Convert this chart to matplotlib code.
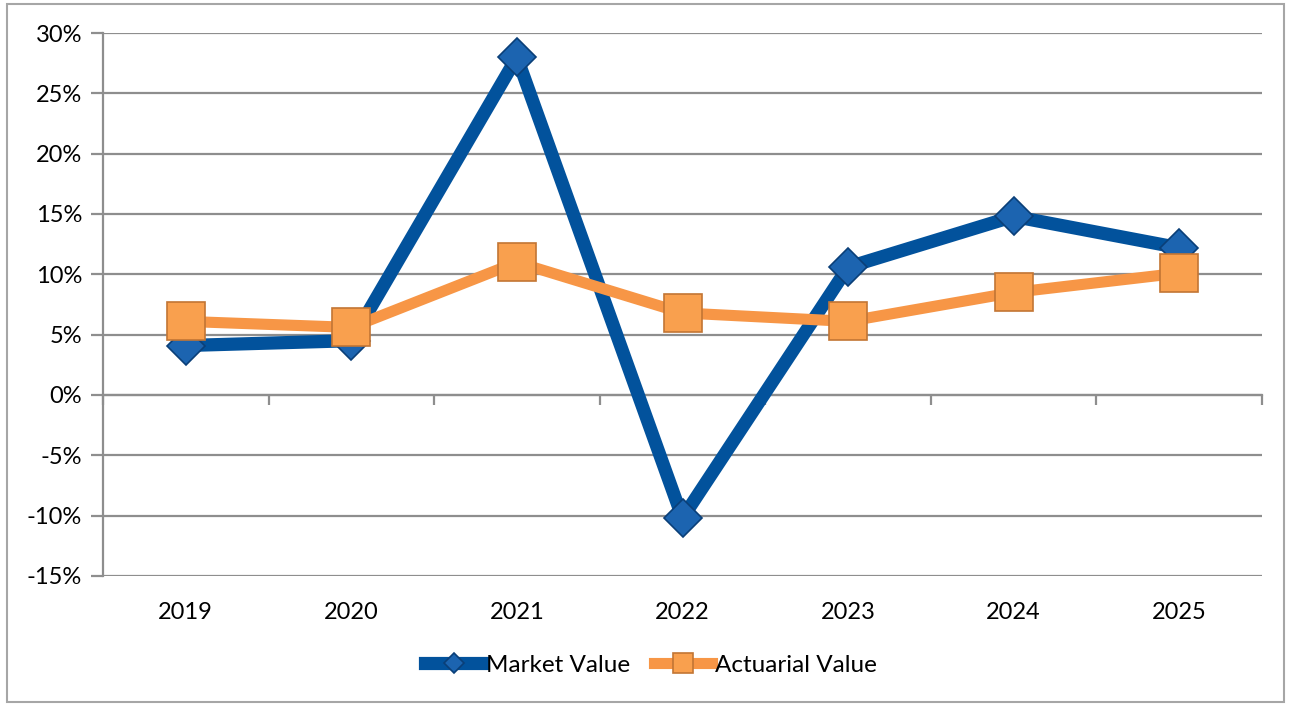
import numpy as np
import matplotlib.pyplot as plt
from matplotlib.patches import Rectangle
from matplotlib.ticker import FixedLocator, PercentFormatter

plt.rcParams['font.family'] = ['Lato', 'DejaVu Sans']
plt.rcParams['axes.unicode_minus'] = False

years = ['2019', '2020', '2021', '2022', '2023', '2024', '2025']
market_value = [4.1, 4.5, 28.0, -10.2, 10.6, 14.8, 12.2]
actuarial_value = [6.1, 5.6, 11.0, 6.8, 6.1, 8.5, 10.1]

blue = '#02529c'
orange = '#f79646'
grid_col = '#8e8e8e'

fig = plt.figure(figsize=(12.91, 7.06), dpi=100)
ax = fig.add_axes([103 / 1291, 1 - 576 / 706, (1262 - 103) / 1291, (576 - 33) / 706])

# outer chart border
fig.patches.append(Rectangle((7 / 1291, 4 / 706), 1277 / 1291, 698 / 706,
                             transform=fig.transFigure, fill=False,
                             edgecolor='#a6a6a6', linewidth=1.5))

x = np.arange(len(years))
ax.plot(x, market_value, color=blue, linewidth=9.5, marker='D', markersize=19,
        markerfacecolor='#1c64b0', markeredgecolor='#0a3f78',
        markeredgewidth=1.2, label='Market Value', zorder=3)
ax.plot(x, actuarial_value, color=orange, linewidth=8, marker='s', markersize=27,
        markerfacecolor='#f9a04e', markeredgecolor='#c27534',
        markeredgewidth=1.2, label='Actuarial Value', zorder=4)

ax.set_xlim(-0.5, len(years) - 0.5)
ax.set_ylim(-15, 30)
ax.set_yticks(np.arange(-15, 31, 5))
ax.yaxis.set_major_formatter(PercentFormatter(decimals=0))
ax.grid(axis='y', color=grid_col, linewidth=1.6, zorder=0)
ax.set_axisbelow(True)

for side in ['top', 'right', 'bottom']:
    ax.spines[side].set_visible(False)
ax.spines['left'].set_color(grid_col)
ax.spines['left'].set_linewidth(1.6)

ax.tick_params(axis='y', length=9, width=1.6, color=grid_col, labelsize=17,
               pad=6)
ax.set_xticks(x)
ax.set_xticklabels(years)
ax.tick_params(axis='x', length=0, labelsize=17, pad=19)

# category axis crossing at 0% with boundary tick marks
sec = ax.secondary_xaxis(1 / 3)
sec.xaxis.set_major_locator(FixedLocator(np.arange(-0.5, len(years), 1.0)))
sec.tick_params(axis='x', direction='out', length=7, width=1.6, color=grid_col,
                labelbottom=False, labeltop=False)
sec.spines['bottom'].set_color(grid_col)
sec.spines['bottom'].set_linewidth(1.6)

leg = fig.legend(loc='center', bbox_to_anchor=(0.504, 0.058), ncol=2,
                 frameon=False, fontsize=17.5, handlelength=2.4,
                 handletextpad=0.1, columnspacing=1.0, markerscale=0.55)

fig.savefig('out.png', dpi=100)
